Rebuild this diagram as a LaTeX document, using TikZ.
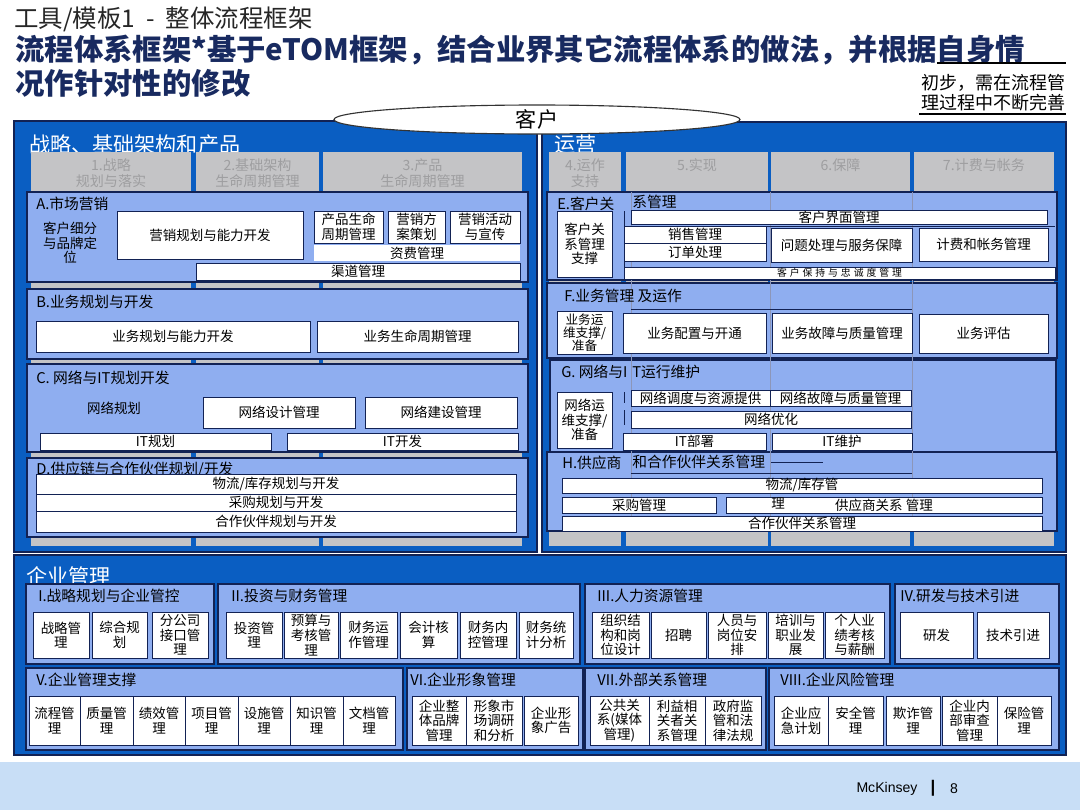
\documentclass[tikz,border=0pt]{standalone}
\usepackage{fontspec}
\setmainfont{Noto Sans CJK SC}
\newfontfamily\latinsans{Liberation Sans}
\usetikzlibrary{shapes.geometric}

\definecolor{deepblue}{RGB}{10,94,194}
\definecolor{navy}{RGB}{18,34,84}
\definecolor{paleblue}{RGB}{143,174,240}
\definecolor{colgray}{RGB}{196,196,198}
\definecolor{coltext}{RGB}{158,158,160}
\definecolor{headnavy}{RGB}{24,42,96}
\definecolor{footblue}{RGB}{200,222,246}
\definecolor{guide}{RGB}{140,150,185}

\tikzset{
  bigpane/.style={fill=deepblue, draw=navy, line width=1.4pt},
  pane/.style={fill=paleblue, draw=navy, line width=0.9pt},
  proc/.style={fill=white, draw=navy, line width=0.7pt, align=center, inner sep=0.5pt,
    font=\fontsize{9.6}{10.4}\selectfont},
  strip/.style={proc, line width=0.5pt},
  bare/.style={proc, draw=none},
  plain/.style={align=center, inner sep=0.5pt, font=\fontsize{9.6}{10.4}\selectfont},
  colhead/.style={anchor=north, align=center, text=coltext, font=\fontsize{10}{11}\selectfont},
  panetitle/.style={anchor=west, inner sep=0pt, font=\fontsize{10.5}{12}\selectfont},
  bigtitle/.style={anchor=west, inner sep=0pt, text=white, font=\fontsize{15}{16}\selectfont},
  headline/.style={anchor=west, inner sep=0pt, text=headnavy, font=\bfseries\fontsize{20.9}{25}\selectfont},
  guideline/.style={guide, line width=0.4pt},
  rule/.style={navy, line width=0.6pt}
}

\newcommand\procbox[7]{%
  \node[#1, minimum width={(#5-#3)*0.025cm}, minimum height={(#6-#4)*0.025cm}]
    (#2) at ({(#3+#5)/2},{(#4+#6)/2}) {#7};}

\begin{document}
\begin{tikzpicture}[x=0.025cm, y=-0.025cm]
  \useasboundingbox (0,0) rectangle (1080,810);
  \fill[white] (0,0) rectangle (1080,810);
  \fill[footblue] (0,762) rectangle (1080,810);

  \node[anchor=west, inner sep=0pt, text=black!85, font=\fontsize{17.4}{20}\selectfont] (kicker) at (14,19) {工具/模板1\hspace{0.45em}-\hspace{0.45em}整体流程框架};
  \node[headline] (heada) at (15,50) {流程体系框架*基于eTOM框架，结合业界其它流程体系的做法，并根据自身情};
  \node[headline] (headb) at (15,83) {况作针对性的修改};
  \draw[line width=1pt] (937,63) -- (1066,63);
  \node[anchor=east, align=right, inner sep=0pt, font=\fontsize{12.8}{14.2}\selectfont] (note) at (1066,93) {初步，需在流程管\\理过程中不断完善};
  \draw[line width=0.8pt] (919,114) -- (1066,114);

  \draw[bigpane] (14,121) rectangle (537,552);
  \draw[bigpane] (542,122) rectangle (1066,552);
  \node[bigtitle] (strat) at (29,145) {战略、基础架构和产品};
  \node[bigtitle] (ops) at (554,145) {运营};

  \foreach \xa/\xb/\lbl/\nm in {31/191/{1.战略\\规划与落实}/c1, 196/319/{2.基础架构\\生命周期管理}/c2,
      323/522/{3.产品\\生命周期管理}/c3, 549/621/{4.运作\\支持}/c4, 626/768/{5.实现}/c5,
      771/910/{6.保障}/c6, 914/1054/{7.计费与帐务}/c7} {
    \fill[colgray] (\xa,152) rectangle (\xb,546);
    \node[colhead] (\nm) at ({(\xa+\xb)/2},154) {\lbl};
  }

  \draw[pane] (27,192) rectangle (528,282);
  \draw[pane] (27,289) rectangle (528,359);
  \draw[pane] (27,364) rectangle (528,452);
  \draw[pane] (27,458) rectangle (528,537);
  \node[panetitle] (atitle) at (36,204) {A.市场营销};
  \node[panetitle] (btitle) at (36,302) {B.业务规划与开发};
  \node[panetitle] (ctitle) at (36,378) {C. 网络与IT规划开发};
  \node[panetitle] (dtitle) at (36,470) {D.供应链与合作伙伴规划/开发};

  \node[plain] (aseg) at (70,243) {客户细分\\与品牌定\\位};
  \procbox{proc}{aplan}{117}{211}{303}{259}{营销规划与能力开发}
  \procbox{proc}{aprod}{314}{211}{383}{243}{产品生命\\周期管理}
  \procbox{proc}{acamp}{388}{211}{445}{243}{营销方\\案策划}
  \procbox{proc}{apromo}{450}{211}{520}{243}{营销活动\\与宣传}
  \procbox{bare}{atariff}{314}{245}{520}{261}{资费管理}
  \procbox{strip}{achan}{196}{263}{520}{280}{渠道管理}

  \procbox{proc}{bplan}{36}{321}{310}{352}{业务规划与能力开发}
  \procbox{proc}{blife}{317}{321}{518}{352}{业务生命周期管理}

  \node[plain] (cplan) at (114,408) {网络规划};
  \procbox{proc}{cdesign}{203}{397}{355}{428}{网络设计管理}
  \procbox{proc}{cbuild}{365}{397}{517}{428}{网络建设管理}
  \procbox{strip}{citplan}{40}{433}{271}{450}{IT规划}
  \procbox{strip}{citdev}{287}{433}{518}{450}{IT开发}

  \procbox{strip}{dlog}{36}{474}{516}{494}{物流/库存规划与开发}
  \procbox{strip}{dbuy}{36}{494}{516}{511}{采购规划与开发}
  \procbox{strip}{dpart}{36}{511}{516}{532}{合作伙伴规划与开发}

  \draw[pane] (547,192) rectangle (1057,280);
  \draw[pane] (547,283) rectangle (1057,358);
  \draw[pane] (550,360) rectangle (1056,452);
  \draw[pane] (547,452) rectangle (1057,531);
  \foreach \gx in {631,770,912} {
    \draw[guideline] (\gx,192) -- (\gx,531);
  }

  \node[panetitle] (etitle) at (557,204) {E.客户关};
  \node[panetitle] (etitleb) at (632,202) {系管理};
  \draw[rule] (624,211) -- (624,279);
  \draw[rule] (624,226) -- (1055,226);
  \procbox{proc}{esup}{557}{211}{612}{277}{客户关\\系管理\\支撑}
  \procbox{strip}{eface}{631}{211}{1047}{224}{客户界面管理}
  \procbox{strip}{esale}{624}{226}{766}{243}{销售管理}
  \procbox{strip}{eorder}{624}{243}{766}{261}{订单处理}
  \procbox{proc}{eissue}{771}{228}{912}{262}{问题处理与服务保障}
  \procbox{proc}{ebill}{919}{228}{1048}{261}{计费和帐务管理}
  \procbox{strip, font=\fontsize{7}{8}\selectfont\addfontfeatures{LetterSpace=30}}{ekeep}{624}{267}{1055}{279}{客户保持与忠诚度管理}

  \node[panetitle] (ftitle) at (564,296) {F.业务管理 及运作};
  \draw[rule] (631,309) -- (912,309);
  \procbox{proc, font=\fontsize{9}{9.4}\selectfont}{fsup}{557}{311}{612}{354}{业务运\\维支撑/\\准备}
  \procbox{proc}{fconf}{623}{313}{766}{353}{业务配置与开通}
  \procbox{proc}{ffault}{772}{313}{912}{353}{业务故障与质量管理}
  \procbox{proc}{feval}{919}{314}{1048}{353}{业务评估}

  \node[panetitle] (gtitle) at (561,372) {G. 网络与I};
  \node[panetitle] (gtitleb) at (632,372) {T运行维护};
  \draw[rule] (624,392) -- (624,403) (624,410) -- (624,425);
  \procbox{proc}{gsup}{557}{392}{612}{448}{网络运\\维支撑/\\准备}
  \procbox{strip}{gdisp}{631}{390}{770}{406}{网络调度与资源提供}
  \procbox{strip}{gfault}{770}{390}{911}{406}{网络故障与质量管理}
  \procbox{strip}{gopt}{631}{411}{911}{428}{网络优化}
  \procbox{strip}{gdeploy}{623}{433}{766}{450}{IT部署}
  \procbox{strip}{gmaint}{772}{433}{912}{450}{IT维护}

  \node[panetitle] (htitle) at (562,463) {H.供应商};
  \node[panetitle] (htitleb) at (632,462) {和合作伙伴关系管理};
  \draw[rule] (771,462) -- (823,462);
  \draw[rule] (631,473) -- (912,473);
  \procbox{strip}{hlog}{562}{478}{1042}{493}{物流/库存管}
  \procbox{strip}{hbuy}{562}{497}{716}{513}{采购管理}
  \procbox{strip}{hsup}{726}{497}{1042}{513}{供应商关系 管理}
  \node[plain] (hrest) at (778,503) {理};
  \procbox{strip}{hpart}{562}{516}{1042}{531}{合作伙伴关系管理}

  \node[ellipse, draw=black!80, fill=white, line width=0.8pt, inner sep=0pt,
    minimum width={406*0.025cm}, minimum height={29*0.025cm},
    font=\fontsize{15}{16}\selectfont] (cust) at (537,119.5) {客户};

  \draw[bigpane] (14,555) rectangle (1066,755);
  \node[bigtitle] (corp) at (26,576) {企业管理};
  \foreach \xa/\ya/\xb/\yb/\tx/\lbl/\nm in {26/584/214/664/38/{I.战略规划与企业管控}/gi,
      218/584/580/664/231/{II.投资与财务管理}/gii, 585/584/890/664/597/{III.人力资源管理}/giii,
      895/584/1059/664/900/{IV.研发与技术引进}/giv, 26/668/403/750/36/{V.企业管理支撑}/gv,
      407/668/583/750/410/{VI.企业形象管理}/gvi, 585/668/766/750/597/{VII.外部关系管理}/gvii,
      769/668/1059/750/780/{VIII.企业风险管理}/gviii} {
    \draw[pane] (\xa,\ya) rectangle (\xb,\yb);
    \node[panetitle] (\nm) at (\tx,\ya+12) {\lbl};
  }

  \foreach \xa/\xb/\lbl/\nm in {33/89/{战略管\\理}/i1, 92/147/{综合规\\划}/i2, 152/208/{分公司\\接口管\\理}/i3,
      226/282/{投资管\\理}/ii1, 284/338/{预算与\\考核管\\理}/ii2, 340/397/{财务运\\作管理}/ii3,
      400/457/{会计核\\算}/ii4, 460/516/{财务内\\控管理}/ii5, 519/573/{财务统\\计分析}/ii6,
      592/649/{组织结\\构和岗\\位设计}/iii1, 651/706/{招聘}/iii2, 708/766/{人员与\\岗位安\\排}/iii3,
      768/823/{培训与\\职业发\\展}/iii4, 825/884/{个人业\\绩考核\\与薪酬}/iii5,
      900/973/{研发}/iv1, 977/1049/{技术引进}/iv2} {
    \procbox{proc}{\nm}{\xa}{612}{\xb}{658}{\lbl}
  }

  \foreach \xa/\xb/\lbl/\nm in {29/80/{流程管\\理}/v1, 80/133/{质量管\\理}/v2, 133/185/{绩效管\\理}/v3,
      185/238/{项目管\\理}/v4, 238/290/{设施管\\理}/v5, 290/343/{知识管\\理}/v6, 343/395/{文档管\\理}/v7,
      412/466/{企业整\\体品牌\\管理}/vi1, 466/522/{形象市\\场调研\\和分析}/vi2, 524/578/{企业形\\象广告}/vi3,
      590/649/{公共关\\系(媒体\\管理)}/vii1, 649/705/{利益相\\关者关\\系管理}/vii2, 705/761/{政府监\\管和法\\律法规}/vii3,
      774/828/{企业应\\急计划}/viii1, 828/883/{安全管\\理}/viii2, 886/940/{欺诈管\\理}/viii3,
      942/997/{企业内\\部审查\\管理}/viii4, 997/1051/{保险管\\理}/viii5} {
    \procbox{proc}{\nm}{\xa}{696}{\xb}{745}{\lbl}
  }

  \node[font=\latinsans\fontsize{10}{12}\selectfont] (brand) at (887,789) {McKinsey};
  \node[font=\latinsans\bfseries\fontsize{12}{14}\selectfont] (bar) at (933,788) {|};
  \node[font=\latinsans\fontsize{10}{12}\selectfont] (pageno) at (954,789) {8};
\end{tikzpicture}
\end{document}
